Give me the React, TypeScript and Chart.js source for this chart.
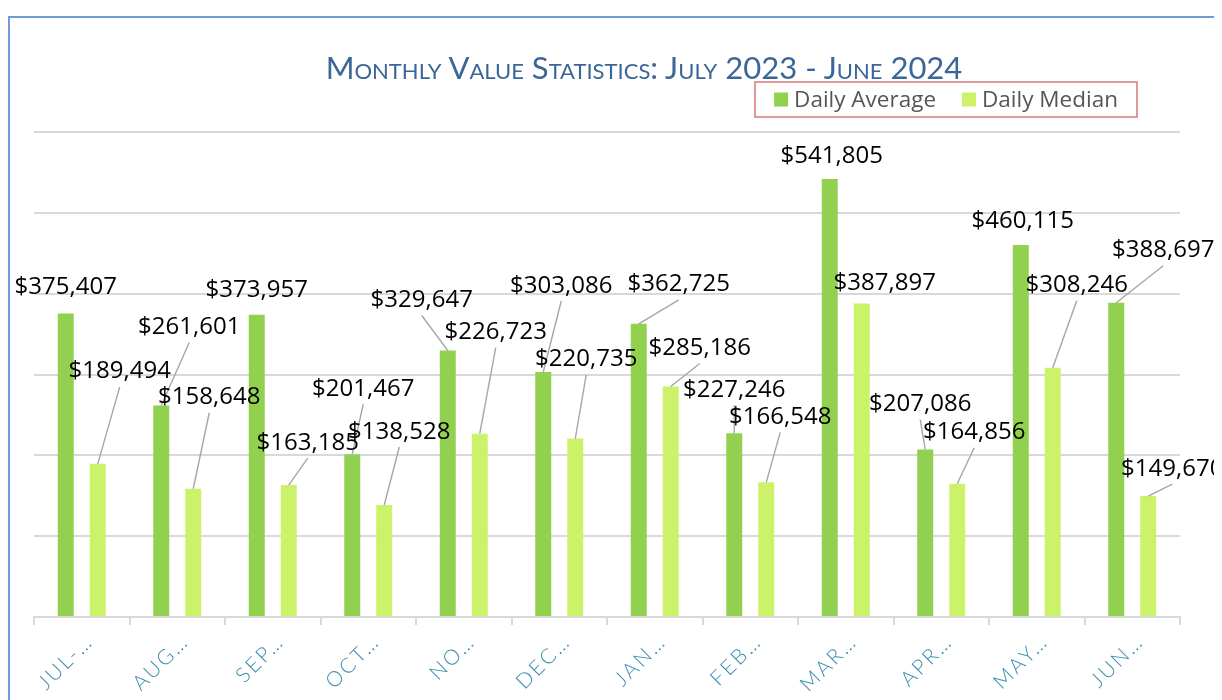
import React, { useEffect, useRef } from "react";
import { Chart, registerables } from "chart.js";

Chart.register(...registerables);

const titleText = "Monthly Value Statistics: July 2023 - June 2024";
const categories = ["JUL-…", "AUG…", "SEP…", "OCT…", "NO…", "DEC…", "JAN…", "FEB…", "MAR…", "APR…", "MAY…", "JUN…"];
const seriesNames = ["Daily Average", "Daily Median"];
const dailyAverage = [375407, 261601, 373957, 201467, 329647, 303086, 362725, 227246, 541805, 207086, 460115, 388697];
const dailyMedian = [189494, 158648, 163185, 138528, 226723, 220735, 285186, 166548, 387897, 164856, 308246, 149670];
const yMax = 600000;
const yStep = 100000;

// label placement relative to bar top [dx, dy]
const averageLabelOffsets = [[0, -28], [28, -80], [0, -26], [11, -67], [-26, -52], [18, -88], [40, -41], [0, -45], [2, -25], [-5, -47], [2, -26], [47, -54]];
const medianLabelOffsets = [[22, -94], [16, -93], [19, -44], [15, -75], [16, -103], [11, -81], [29, -40], [14, -67], [23, -22], [17, -53], [24, -84], [24, -29]];
const averageLeaders = [false, true, false, true, true, true, true, true, false, true, false, true];
const medianLeaders = [true, true, true, true, true, true, true, true, false, true, true, true];

const COLORS = ["#92d050", "#ccf26a"];
const CANVAS_W = 1207;
const CANVAS_H = 682;

const fmt = (v: number) => "$" + v.toLocaleString("en-US");

const dataLabelPlugin = {
  id: "dataLabelPlugin",
  afterDatasetsDraw(chart: any) {
    const ctx = chart.ctx;
    ctx.save();
    ctx.letterSpacing = "0px";
    const items: any[] = [];
    chart.data.datasets.forEach((ds: any, di: number) => {
      const meta = chart.getDatasetMeta(di);
      const offsets = di === 0 ? averageLabelOffsets : medianLabelOffsets;
      const leaders = di === 0 ? averageLeaders : medianLeaders;
      meta.data.forEach((bar: any, i: number) => {
        const p = bar.getProps(["x", "y"], true);
        items.push({
          bx: p.x,
          by: p.y,
          lx: p.x + offsets[i][0],
          ly: p.y + offsets[i][1],
          leader: leaders[i],
          text: fmt(ds.data[i]),
        });
      });
    });
    ctx.strokeStyle = "#a6a6a6";
    ctx.lineWidth = 1.4;
    items.forEach((it) => {
      if (!it.leader) return;
      ctx.beginPath();
      ctx.moveTo(it.lx, it.ly + 17);
      ctx.lineTo(it.bx, it.by);
      ctx.stroke();
    });
    ctx.font = '24px "Open Sans"';
    ctx.fillStyle = "#000000";
    ctx.textAlign = "center";
    ctx.textBaseline = "alphabetic";
    items.forEach((it) => {
      ctx.fillText(it.text, it.lx, it.ly + 8.5);
    });
    ctx.restore();
  },
};

const legendPlugin = {
  id: "boxedLegend",
  afterDraw(chart: any) {
    const ctx = chart.ctx;
    ctx.save();
    ctx.letterSpacing = "0px";
    const boxL = 745, boxT = 64, boxW = 382, boxH = 35;
    ctx.strokeStyle = "#d47a7a";
    ctx.lineWidth = 1.5;
    ctx.strokeRect(boxL, boxT, boxW, boxH);
    ctx.font = '22.5px "Open Sans"';
    ctx.textBaseline = "middle";
    ctx.textAlign = "left";
    const sq = 14, gapText = 6, gapItem = 26;
    const widths = chart.data.datasets.map((d: any) => ctx.measureText(d.label).width);
    const total = widths.reduce((a: number, w: number) => a + sq + gapText + w, 0) + gapItem * (widths.length - 1);
    let x = boxL + (boxW - total) / 2;
    const cy = boxT + boxH / 2;
    chart.data.datasets.forEach((d: any, i: number) => {
      ctx.fillStyle = d.backgroundColor;
      ctx.fillRect(x, cy - sq / 2, sq, sq);
      x += sq + gapText;
      ctx.fillStyle = "#555555";
      ctx.fillText(d.label, x, cy + 1);
      x += widths[i] + gapItem;
    });
    ctx.restore();
  },
};

export default function App() {
  const ref = useRef<HTMLCanvasElement | null>(null);

  useEffect(() => {
    if (!ref.current) return;
    const chart = new Chart(ref.current, {
      type: "bar",
      data: {
        labels: categories,
        datasets: [
          { label: seriesNames[0], data: dailyAverage, backgroundColor: COLORS[0], categoryPercentage: 0.67, barPercentage: 0.5 },
          { label: seriesNames[1], data: dailyMedian, backgroundColor: COLORS[1], categoryPercentage: 0.67, barPercentage: 0.5 },
        ],
      },
      options: {
        responsive: false,
        animation: false,
        devicePixelRatio: 1,
        layout: { padding: { left: 24, right: CANVAS_W - 1170, top: 114, bottom: 0 } },
        plugins: {
          legend: { display: false },
          title: { display: false },
          tooltip: { enabled: false },
        },
        scales: {
          x: {
            grid: { display: true, drawOnChartArea: false, drawTicks: true, tickLength: 8, color: "#d9d9d9", lineWidth: 2, offset: true },
            border: { display: true, color: "#d9d9d9", width: 2 },
            ticks: {
              color: "#3d8fb0",
              font: { family: "Lato", size: 21, weight: "300" },
              minRotation: 45,
              maxRotation: 45,
              autoSkip: false,
              padding: 4,
              labelOffset: 8,
            },
            afterFit(scale: any) {
              scale.height = CANVAS_H - 599;
              scale.paddingLeft = 0;
              scale.paddingRight = 0;
              if (!scale.__spaced) {
                const orig = scale.drawLabels;
                scale.drawLabels = function (area: any) {
                  const c = this.ctx;
                  c.save();
                  c.letterSpacing = "2.5px";
                  orig.call(this, area);
                  c.restore();
                };
                scale.__spaced = true;
              }
            },
          },
          y: {
            min: 0,
            max: yMax,
            ticks: { display: false, stepSize: yStep },
            grid: { color: "#d9d9d9", lineWidth: 2, drawTicks: false },
            border: { display: false },
            afterFit(scale: any) {
              scale.width = 0;
            },
          },
        },
      },
      plugins: [dataLabelPlugin, legendPlugin],
    });
    return () => chart.destroy();
  }, []);

  return (
    <div style={{ paddingTop: 8 }}>
      <div
        style={{
          position: "relative",
          width: CANVAS_W,
          height: CANVAS_H + 4,
          border: "2px solid #6f9bd8",
          overflow: "hidden",
          background: "#ffffff",
        }}
      >
        <div
          style={{
            position: "absolute",
            left: 634,
            top: 29,
            transform: "translateX(-50%)",
            whiteSpace: "nowrap",
            fontFamily: "Lato, sans-serif",
            fontVariant: "small-caps",
            fontSize: 31,
            color: "#3b6699",
            lineHeight: "40px",
          }}
        >
          {titleText}
        </div>
        <canvas ref={ref} width={CANVAS_W} height={CANVAS_H} style={{ display: "block" }} />
      </div>
    </div>
  );
}
